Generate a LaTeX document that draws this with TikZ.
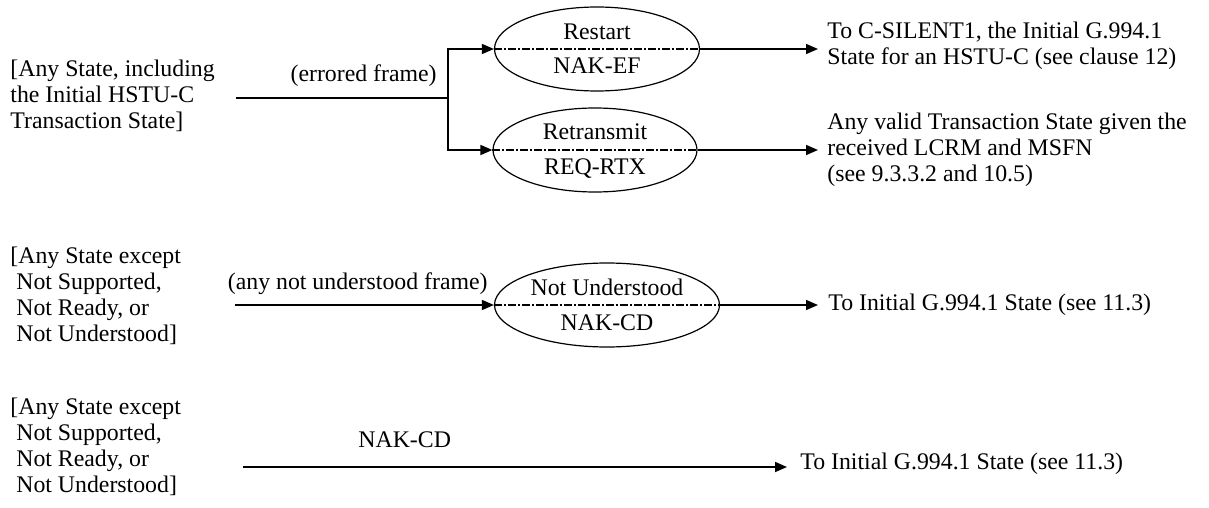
\documentclass[tikz,border=0pt]{standalone}
\usepackage{fontspec}
\setmainfont{Liberation Serif}
\usetikzlibrary{arrows.meta,shapes.geometric}
\begin{document}
\begin{tikzpicture}[x=0.5pt,y=-0.5pt,
  every node/.style={font=\fontsize{11.9}{13}\selectfont, inner sep=0pt},
  txt/.style={align=left, anchor=west},
  st/.style={draw, ellipse, line width=0.6pt, minimum height=42pt},
  ln/.style={line width=0.8pt},
  arr/.style={line width=0.8pt, -{Triangle[length=6pt,width=5pt]}},
  mid/.style={line width=0.7pt, dash pattern=on 4pt off 1pt on 1pt off 1pt}]
\useasboundingbox (0,0) rectangle (1209,508);

% ---------- Row 1 ----------
\node[txt] (L1) at (10,96) {[Any State, including\\the Initial HSTU-C\\Transaction State]};
\node[anchor=east] (lab1) at (437,76) {(errored frame)};
\node[st, minimum width=102.5pt] (E1) at (597,49) {};
\node[st, minimum width=102pt] (E2) at (595,150) {};
\draw[mid] (E1.west) -- (E1.east);
\draw[mid] (E2.west) -- (E2.east);
\node (E1a) at (597,32) {Restart};
\node (E1b) at (597,66) {NAK-EF};
\node (E2a) at (595,132) {Retransmit};
\node (E2b) at (595,169) {REQ-RTX};
\coordinate (s1) at (236,98);
\coordinate (j1) at (448,98);
\draw[ln] (s1) -- (j1);
\draw[arr] (j1) |- (E1.west);
\draw[arr] (j1) |- (E2.west);
\node[txt, inner xsep=4.5pt] (R1) at (818,46) {To C-SILENT1, the Initial G.994.1\\State for an HSTU-C (see clause 12)};
\node[txt, inner xsep=4.5pt] (R2) at (818,150) {Any valid Transaction State given the\\received LCRM and MSFN\\(see 9.3.3.2 and 10.5)};
\draw[arr] (E1.east) -- (E1.east -| R1.west);
\draw[arr] (E2.east) -- (E2.east -| R2.west);

% ---------- Row 3 ----------
\node[txt] (L3) at (10,296) {[Any State except\\\hspace*{0.25em}Not Supported,\\\hspace*{0.25em}Not Ready, or\\\hspace*{0.25em}Not Understood]};
\node[anchor=east] (lab3) at (488,284) {(any not understood frame)};
\node[st, minimum width=112.5pt] (E3) at (607,305) {};
\draw[mid] (E3.west) -- (E3.east);
\node (E3a) at (607,287) {Not Understood};
\node (E3b) at (607,323) {NAK-CD};
\coordinate (s3) at (235,305);
\draw[arr] (s3) -- (E3.west);
\node[txt, inner xsep=5pt] (R3) at (818,305) {To Initial G.994.1 State (see 11.3)};
\draw[arr] (E3.east) -- (R3.west);

% ---------- Row 4 ----------
\node[txt] (L4) at (10,447) {[Any State except\\\hspace*{0.25em}Not Supported,\\\hspace*{0.25em}Not Ready, or\\\hspace*{0.25em}Not Understood]};
\node[anchor=west] (lab4) at (358,440) {NAK-CD};
\coordinate (s4) at (243,467);
\node[txt, inner xsep=6.5pt] (R4) at (787,464) {To Initial G.994.1 State (see 11.3)};
\draw[arr] (s4) -- (s4 -| R4.west);
\end{tikzpicture}
\end{document}
